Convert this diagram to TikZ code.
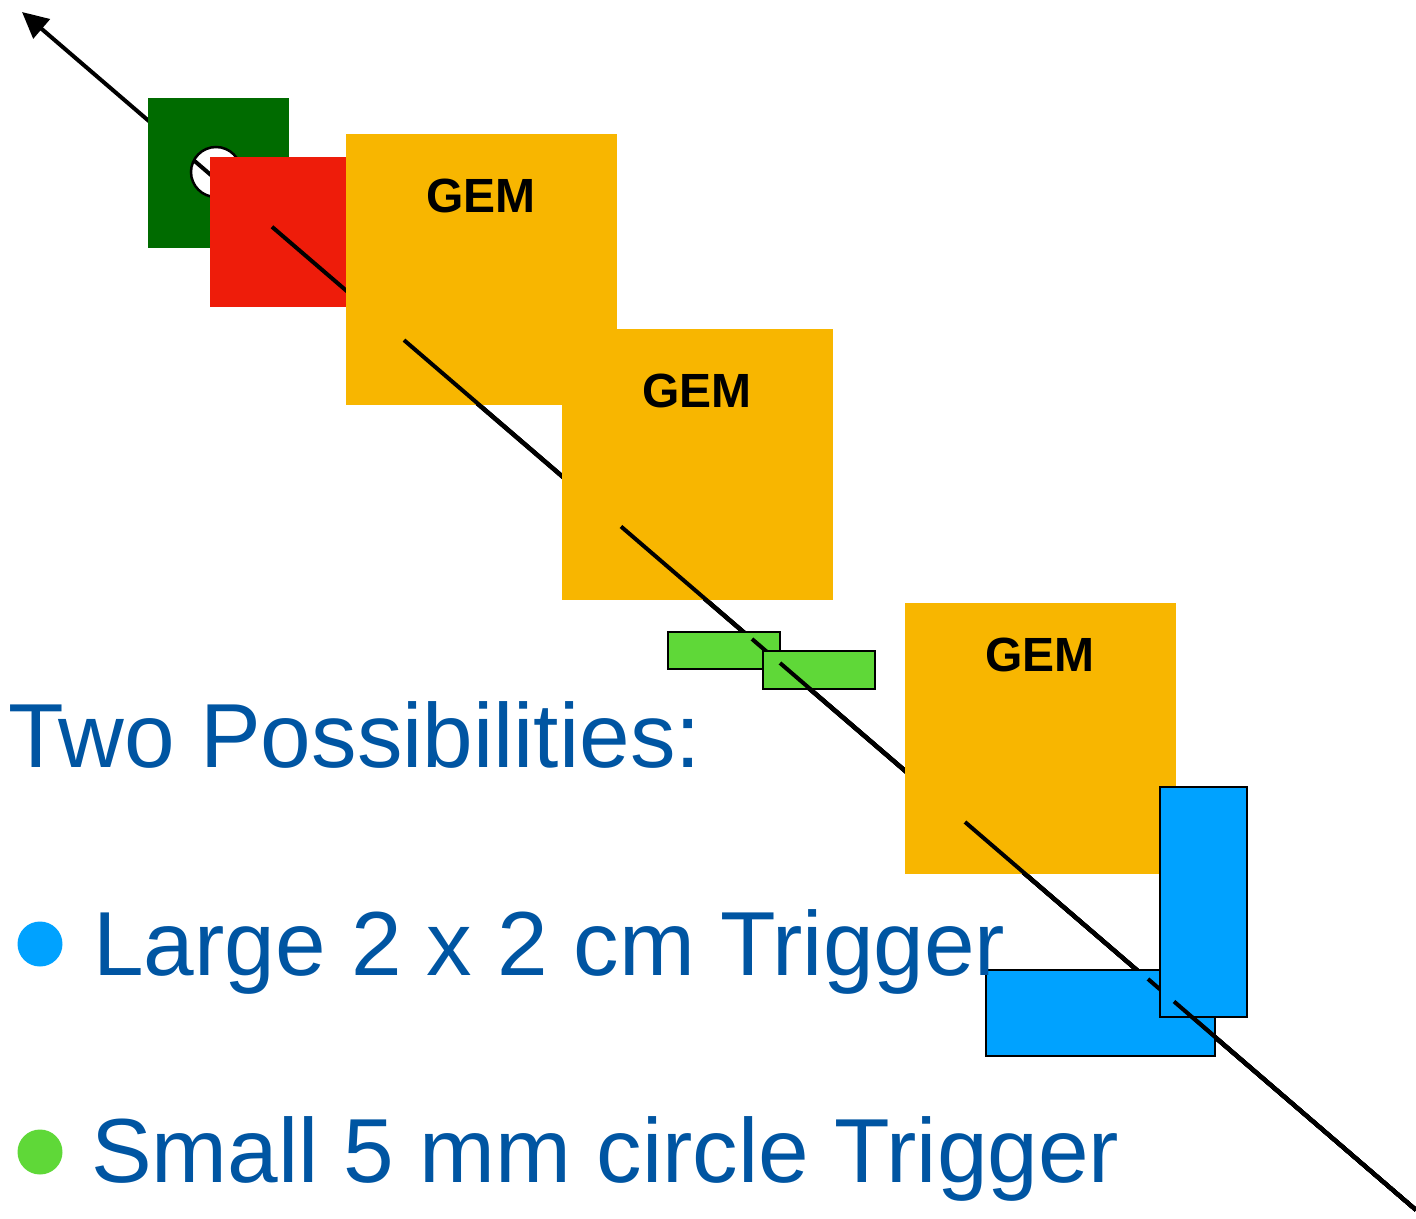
\documentclass[tikz,border=0pt]{standalone}
\usepackage{fontspec}
\setmainfont{Liberation Sans}
\usetikzlibrary{arrows.meta}
\definecolor{dkgreen}{RGB}{0,107,0}
\definecolor{bred}{RGB}{238,28,10}
\definecolor{gemyel}{RGB}{248,182,0}
\definecolor{ltgreen}{RGB}{95,216,56}
\definecolor{skyblue}{RGB}{0,162,255}
\definecolor{txtblue}{RGB}{0,85,162}
\tikzset{
  box/.style={rectangle, inner sep=0pt, outer sep=0pt},
  trk/.style={line width=4pt, black},
  trig/.style={box, draw=black, line width=2.5pt},
  gemlbl/.style={font=\bfseries\fontsize{48}{50}\selectfont, inner sep=0pt, anchor=base},
  bigtxt/.style={font=\fontsize{91}{100}\selectfont, text=txtblue, inner sep=0pt, anchor=base west},
}
\begin{document}
\begin{tikzpicture}[x=1pt,y=-1pt]
\useasboundingbox (0,0) rectangle (1416,1218);
% track end points
\coordinate (tip) at (22,12);
\coordinate (tend) at (1416,1210);
\coordinate (s0) at (194,160.5);
\coordinate (s1) at (272,226.8);
\coordinate (s2) at (404,340.1);
\coordinate (s3) at (621,526.5);
\coordinate (s4) at (752,639);
\coordinate (s5) at (780,663);
\coordinate (s6) at (965,822);
\coordinate (s7) at (1148,979);
\coordinate (s8) at (1174,1001.5);
% full track with arrow
\draw[trk, -{Triangle[length=26pt,width=25pt]}] (tend) -- (tip);
% dark green detector with hole
\node[box, fill=dkgreen, minimum width=141pt, minimum height=150pt] (dg) at (218.5,173) {};
\node[circle, draw=black, fill=white, line width=2.5pt, minimum size=50pt, inner sep=0pt] (hole) at (216,172) {};
\draw[trk] (s0) -- (tend);
% red detector
\node[box, fill=bred, minimum width=136pt, minimum height=150pt] (rd) at (278,232) {};
\draw[trk] (s1) -- (tend);
% GEM 1
\node[box, fill=gemyel, minimum width=271pt, minimum height=271pt] (gem1) at (481.5,269.5) {};
\node[gemlbl] (gem1l) at (481,212) {GEM};
\draw[trk] (s2) -- (tend);
% GEM 2
\node[box, fill=gemyel, minimum width=271pt, minimum height=271pt] (gem2) at (697.5,464.5) {};
\node[gemlbl] (gem2l) at (697,407) {GEM};
\draw[trk] (s3) -- (tend);
% small green triggers
\node[trig, fill=ltgreen, minimum width=112pt, minimum height=37pt] (g1) at (724,650.5) {};
\draw[trk] (s4) -- (tend);
\node[trig, fill=ltgreen, minimum width=112pt, minimum height=38pt] (g2) at (819,670) {};
\draw[trk] (s5) -- (tend);
% GEM 3
\node[box, fill=gemyel, minimum width=271pt, minimum height=271pt] (gem3) at (1040.5,738.5) {};
\node[gemlbl] (gem3l) at (1040,671) {GEM};
\draw[trk] (s6) -- (tend);
% large blue triggers
\node[trig, fill=skyblue, minimum width=229pt, minimum height=86pt] (bh) at (1100.5,1013) {};
\draw[trk] (s7) -- (tend);
\node[trig, fill=skyblue, minimum width=87pt, minimum height=230pt] (bv) at (1203.5,902) {};
\draw[trk] (s8) -- (tend);
% texts
\node[bigtxt] (t1) at (8,767) {Two Possibilities:};
\node[circle, fill=skyblue, minimum size=45pt, inner sep=0pt] (b1) at (40,944) {};
\node[bigtxt] (t2) at (93,975) {Large 2 x 2 cm Trigger};
\node[circle, fill=ltgreen, minimum size=45pt, inner sep=0pt] (b2) at (40,1152) {};
\node[bigtxt] (t3) at (91,1182) {Small 5 mm circle Trigger};
\end{tikzpicture}
\end{document}
